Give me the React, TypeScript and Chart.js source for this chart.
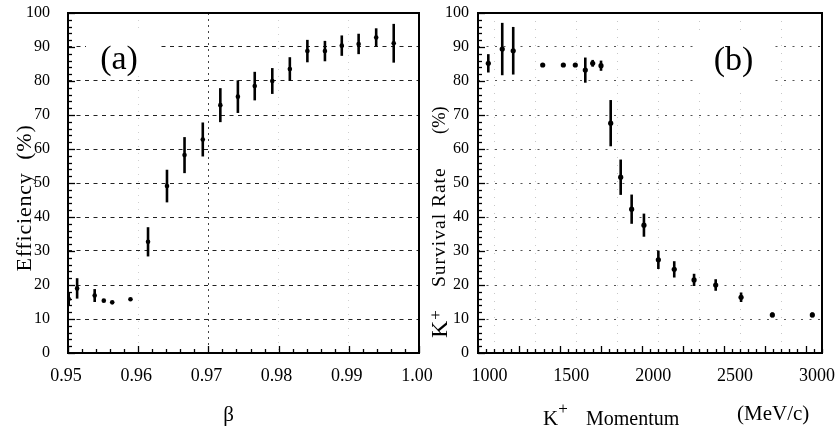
import React, { useEffect, useRef } from "react";
import { Chart, registerables } from "chart.js";
Chart.register(...registerables);

const SERIF = "'Liberation Serif', 'Times New Roman', serif";

// ---- Panel (a): efficiency vs beta ----
const betaValues = [0.9501, 0.9513, 0.9538, 0.9551, 0.9563, 0.9589, 0.9614, 0.9641, 0.9666, 0.9692, 0.9717, 0.9742, 0.9766, 0.9791, 0.9816, 0.9841, 0.9866, 0.989, 0.9914, 0.9939, 0.9964];
const efficiency = [15.9, 19.0, 16.9, 15.4, 14.9, 15.8, 32.7, 49.1, 58.2, 62.8, 72.9, 75.4, 78.5, 80.0, 83.5, 88.8, 88.8, 90.4, 90.9, 92.8, 91.1];
const efficiencyErr = [2.0, 3.0, 1.9, 0, 0, 0, 4.3, 4.8, 5.3, 5.0, 5.0, 4.8, 4.2, 3.8, 3.5, 3.3, 3.0, 3.0, 3.0, 2.7, 5.7];
const betaTicks = [0.95, 0.96, 0.97, 0.98, 0.99, 1.0];

// ---- Panel (b): K+ survival rate vs momentum ----
const momentum = [963, 1048, 1115, 1295, 1421, 1494, 1555, 1600, 1651, 1710, 1771, 1838, 1913, 2001, 2098, 2219, 2351, 2506, 2697, 2941];
const survival = [85.2, 89.4, 88.9, 84.7, 84.7, 84.7, 83.2, 85.2, 84.5, 67.6, 51.7, 42.3, 37.6, 27.4, 24.6, 21.5, 20.0, 16.4, 11.2, 11.2];
const survivalErr = [2.7, 7.7, 7.0, 0.6, 0.6, 0.6, 3.7, 1.0, 1.5, 6.8, 5.2, 4.3, 3.4, 2.7, 2.4, 1.8, 1.7, 1.4, 0.7, 0.7];
const momentumTicks = [1000, 1250, 1500, 1750, 2000, 2250, 2500, 2750, 3000];

const percentTicks = [0, 10, 20, 30, 40, 50, 60, 70, 80, 90, 100];

function txt(ctx: CanvasRenderingContext2D, s: string, x: number, y: number, size: number, o: { rot?: boolean; align?: CanvasTextAlign; spacing?: number } = {}) {
  ctx.save();
  ctx.font = `${size}px ${SERIF}`;
  ctx.fillStyle = "#000";
  ctx.textAlign = o.align || "left";
  ctx.textBaseline = "alphabetic";
  (ctx as any).letterSpacing = (o.spacing || 0) + "px";
  ctx.translate(x, y);
  if (o.rot) ctx.rotate(-Math.PI / 2);
  ctx.fillText(s, 0, 0);
  const w = ctx.measureText(s).width;
  ctx.restore();
  return w;
}

type Deco = {
  name: string;
  xs: number[];
  ys: number[];
  errs: number[];
  xMinorStart: number;
  xMinorStep: number;
  xMinorCount: number;
  xMajorEvery: number;
  box: [number, number, number, number];
  titles: (ctx: CanvasRenderingContext2D) => void;
};

function makePlugin(p: Deco) {
  return {
    id: "deco_" + p.name,
    beforeDatasetsDraw(chart: any) {
      const { ctx } = chart;
      const xs = chart.scales.x;
      const ys = chart.scales.y;
      ctx.save();
      ctx.strokeStyle = "#000";
      ctx.lineWidth = 2.6;
      p.xs.forEach((xv, i) => {
        const e = p.errs[i];
        if (!e) return;
        const px = xs.getPixelForValue(xv);
        ctx.beginPath();
        ctx.moveTo(px, ys.getPixelForValue(p.ys[i] + e));
        ctx.lineTo(px, ys.getPixelForValue(p.ys[i] - e));
        ctx.stroke();
      });
      ctx.restore();
    },
    afterDraw(chart: any) {
      const { ctx, chartArea: a } = chart;
      const xs = chart.scales.x;
      const ys = chart.scales.y;
      ctx.save();
      ctx.fillStyle = "#fff";
      ctx.fillRect(p.box[0], p.box[1], p.box[2], p.box[3]);
      ctx.strokeStyle = "#000";
      ctx.lineWidth = 2;
      ctx.strokeRect(a.left, a.top, a.right - a.left, a.bottom - a.top);
      ctx.lineWidth = 1.3;
      for (let v = 0; v <= 100; v += 2) {
        const py = Math.round(ys.getPixelForValue(v)) + 0.5;
        const len = v % 10 === 0 ? 7 : 4;
        ctx.beginPath();
        ctx.moveTo(a.left, py);
        ctx.lineTo(a.left + len, py);
        ctx.stroke();
      }
      for (let i = 0; i <= p.xMinorCount; i++) {
        const v = p.xMinorStart + i * p.xMinorStep;
        const px = Math.round(xs.getPixelForValue(v)) + 0.5;
        const len = i % p.xMajorEvery === 0 ? 7 : 4;
        ctx.beginPath();
        ctx.moveTo(px, a.bottom);
        ctx.lineTo(px, a.bottom - len);
        ctx.stroke();
      }
      ctx.restore();
      p.titles(ctx);
    },
  };
}

function makeConfig(opts: {
  xs: number[];
  ys: number[];
  xMin: number;
  xMax: number;
  xTicks: number[];
  xLabel: (v: number) => string;
  yWidth: number;
  yPad: number;
  rightPad: number;
  labelOffset: number;
  pointRadius: number;
  xGridColor: (v: number) => string;
  xGridDash: (v: number) => number[];
  yGridColor: string;
  yGridDash: number[];
  plugin: any;
}) {
  const tickFont = { family: SERIF, size: 18 };
  return {
    type: "scatter" as const,
    data: {
      datasets: [
        {
          data: opts.xs.map((x, i) => ({ x, y: opts.ys[i] })),
          pointRadius: opts.pointRadius,
          pointBackgroundColor: "#000",
          pointBorderWidth: 0,
          showLine: false,
        },
      ],
    },
    options: {
      responsive: false,
      animation: false as const,
      layout: { padding: { top: 13, right: opts.rightPad, left: 0, bottom: 0 } },
      plugins: { legend: { display: false }, tooltip: { enabled: false } },
      scales: {
        x: {
          type: "linear" as const,
          min: opts.xMin,
          max: opts.xMax,
          afterBuildTicks: (s: any) => {
            s.ticks = opts.xTicks.map((v) => ({ value: v }));
          },
          afterFit: (s: any) => {
            s.height = 73;
            s.paddingLeft = 0;
            s.paddingRight = 0;
          },
          ticks: {
            callback: (v: any) => opts.xLabel(Number(v)),
            font: tickFont,
            color: "#000",
            padding: 12,
            maxRotation: 0,
            autoSkip: false,
            labelOffset: opts.labelOffset,
          },
          grid: {
            drawTicks: false,
            lineWidth: 1,
            color: (c: any) => opts.xGridColor(c.tick ? c.tick.value : 0),
          },
          border: {
            display: false,
            dash: (c: any) => opts.xGridDash(c.tick ? c.tick.value : 0),
          },
        },
        y: {
          type: "linear" as const,
          min: 0,
          max: 100,
          afterBuildTicks: (s: any) => {
            s.ticks = percentTicks.map((v) => ({ value: v }));
          },
          afterFit: (s: any) => {
            s.width = opts.yWidth;
            s.paddingTop = 0;
            s.paddingBottom = 0;
          },
          ticks: {
            font: { family: SERIF, size: 16 },
            color: "#000",
            padding: opts.yPad,
            autoSkip: false,
          },
          grid: {
            drawTicks: false,
            lineWidth: 1,
            color: (c: any) => {
              const v = c.tick ? c.tick.value : 0;
              return v === 0 || v === 100 ? "rgba(0,0,0,0)" : opts.yGridColor;
            },
          },
          border: { display: false, dash: opts.yGridDash },
        },
      },
    },
    plugins: [opts.plugin],
  };
}

export default function App() {
  const refA = useRef<HTMLCanvasElement>(null);
  const refB = useRef<HTMLCanvasElement>(null);

  useEffect(() => {
    const plugA = makePlugin({
      name: "a",
      xs: betaValues,
      ys: efficiency,
      errs: efficiencyErr,
      xMinorStart: 0.95,
      xMinorStep: 0.002,
      xMinorCount: 25,
      xMajorEvery: 5,
      box: [86, 32, 73, 40],
      titles: (ctx) => {
        txt(ctx, "Efficiency  (%)", 31, 198, 22, { rot: true, align: "center", spacing: 0.8 });
        txt(ctx, "β", 228.5, 421, 21, { align: "center" });
        txt(ctx, "(a)", 119, 69, 34, { align: "center" });
      },
    });
    const chartA = new Chart(
      refA.current as HTMLCanvasElement,
      makeConfig({
        xs: betaValues,
        ys: efficiency,
        xMin: 0.95,
        xMax: 1.0,
        xTicks: betaTicks,
        xLabel: (v) => v.toFixed(2),
        yWidth: 68,
        yPad: 18,
        rightPad: 35,
        labelOffset: -2,
        pointRadius: 2.3,
        xGridColor: (v) =>
          Math.abs(v - 0.97) < 1e-6 ? "#444" : v <= 0.9501 || v >= 0.9999 ? "rgba(0,0,0,0)" : "rgba(0,0,0,0.18)",
        xGridDash: (v) => (Math.abs(v - 0.97) < 1e-6 ? [2, 4] : [1, 6]),
        yGridColor: "#222",
        yGridDash: [4, 4.5],
        plugin: plugA,
      }) as any
    );

    const off = 419;
    const plugB = makePlugin({
      name: "b",
      xs: momentum,
      ys: survival,
      errs: survivalErr,
      xMinorStart: 900,
      xMinorStep: 50,
      xMinorCount: 42,
      xMajorEvery: 5,
      box: [697 - off, 36, 78, 50],
      titles: (ctx) => {
        const wK = txt(ctx, "K", 447 - off, 338, 24, { rot: true });
        txt(ctx, "+", 441 - off, 338 - wK - 1, 17, { rot: true });
        txt(ctx, "Survival Rate", 445 - off, 287, 19.5, { rot: true, spacing: 1 });
        txt(ctx, "(%)", 445 - off, 134, 18.5, { rot: true });
        const wK2 = txt(ctx, "K", 543 - off, 425, 21);
        txt(ctx, "+", 543 - off + wK2, 414, 17);
        txt(ctx, "Momentum", 586 - off, 425, 20);
        txt(ctx, "(MeV/c)", 737 - off, 420, 21);
        txt(ctx, "(b)", 733.5 - off, 70, 34, { align: "center" });
      },
    });
    const chartB = new Chart(
      refB.current as HTMLCanvasElement,
      makeConfig({
        xs: momentum,
        ys: survival,
        xMin: 900,
        xMax: 3000,
        xTicks: momentumTicks,
        xLabel: (v) => (v % 500 === 0 ? String(v) : ""),
        yWidth: 59,
        yPad: 9,
        rightPad: 16,
        labelOffset: -5,
        pointRadius: 2.6,
        xGridColor: (v) => (v >= 3000 ? "rgba(0,0,0,0)" : "rgba(0,0,0,0.22)"),
        xGridDash: () => [1, 7],
        yGridColor: "#555",
        yGridDash: [2, 6.5],
        plugin: plugB,
      }) as any
    );

    return () => {
      chartA.destroy();
      chartB.destroy();
    };
  }, []);

  return (
    <div style={{ position: "fixed", left: 0, top: 0, width: 838, height: 426, background: "#fff", overflow: "hidden" }}>
      <canvas ref={refA} width={454} height={426} style={{ position: "absolute", left: 0, top: 0 }} />
      <canvas ref={refB} width={419} height={426} style={{ position: "absolute", left: 419, top: 0 }} />
    </div>
  );
}
